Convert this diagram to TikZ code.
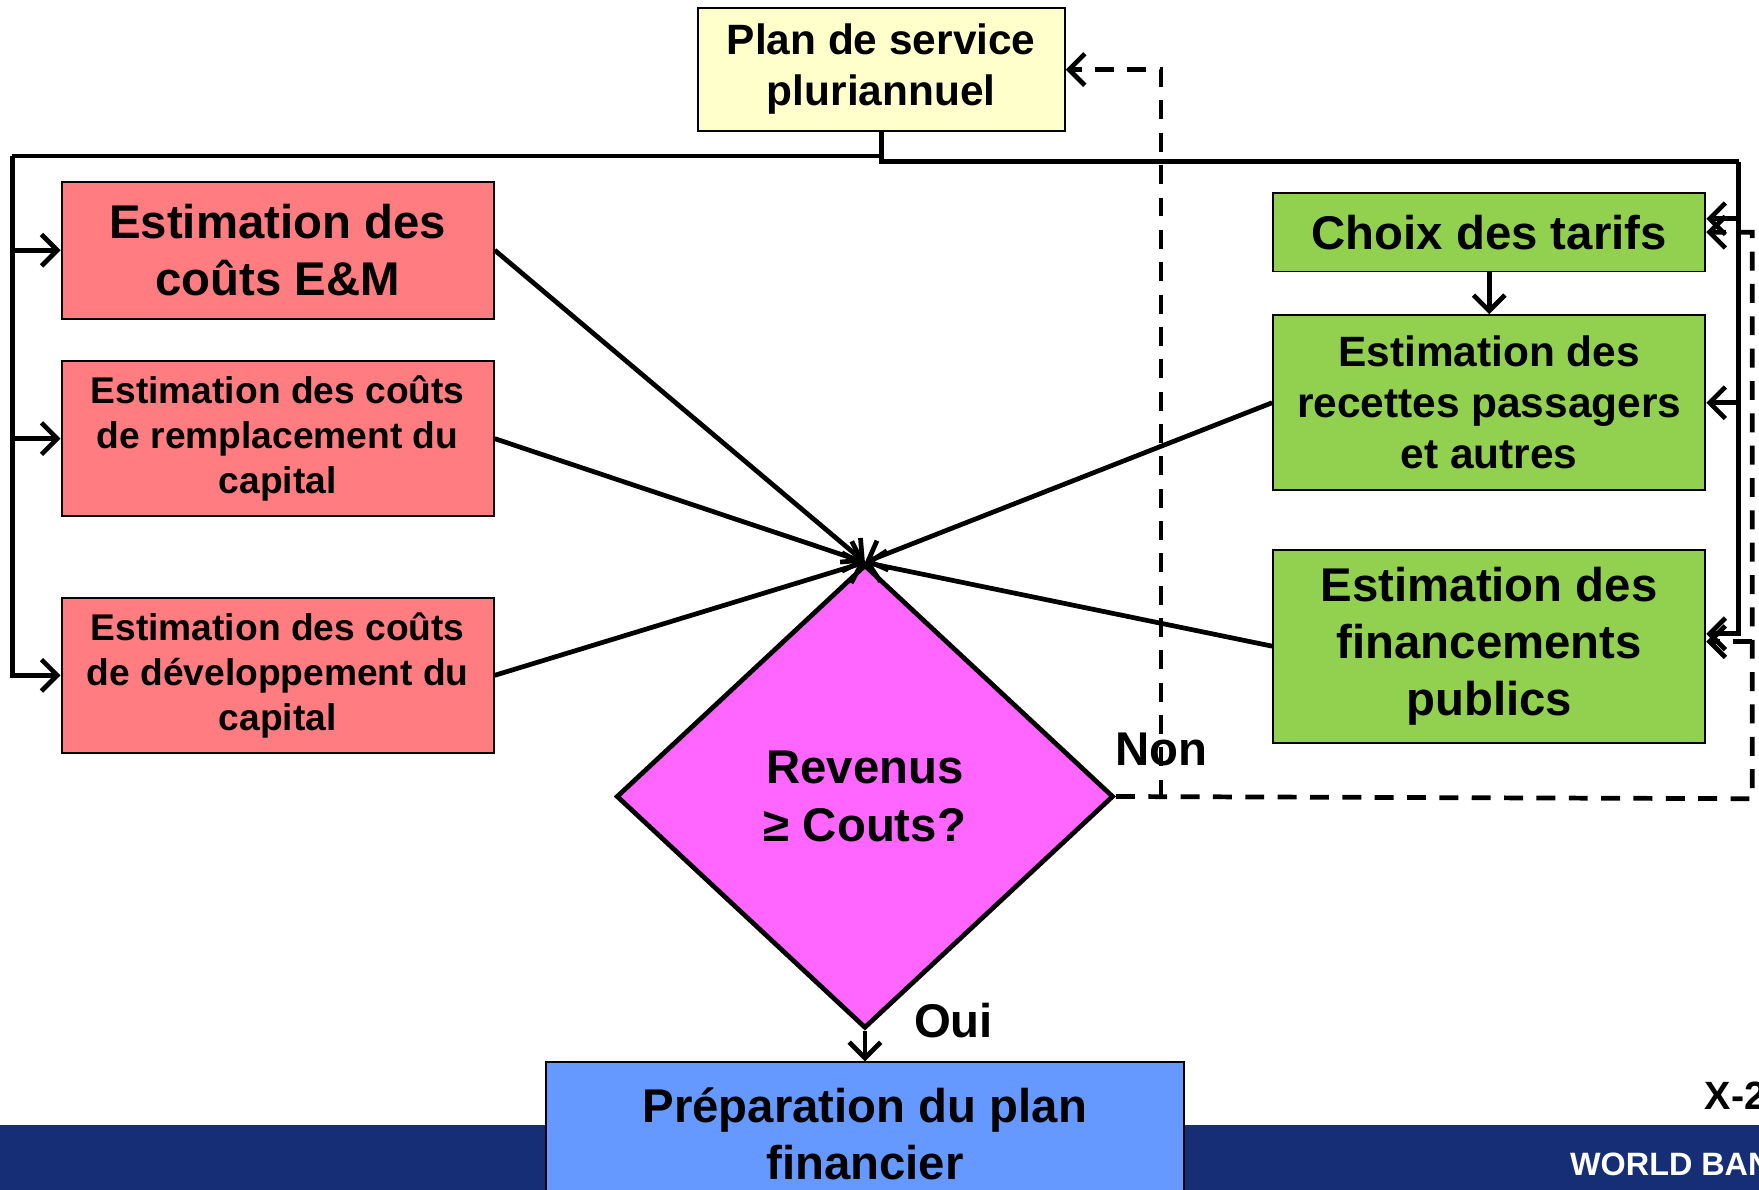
\documentclass[tikz,border=0pt]{standalone}
\usepackage{fontspec}
\setmainfont{Liberation Sans}
\usetikzlibrary{shapes.geometric}
\usetikzlibrary{arrows.meta}
\definecolor{costred}{HTML}{FF7C80}
\definecolor{revgreen}{HTML}{92D050}
\definecolor{planyellow}{HTML}{FFFFCC}
\definecolor{testpink}{HTML}{FF66FF}
\definecolor{prepblue}{HTML}{6699FF}
\definecolor{bannerblue}{RGB}{21,46,118}
\def\wirewidth{1.2pt}
\tikzset{box/.style={draw, line width=0.5pt, align=center, inner sep=0pt}}
\tikzset{bigtext/.style={font=\bfseries\fontsize{12}{14.5}\selectfont}}
\tikzset{midtext/.style={font=\bfseries\fontsize{10.75}{12.95}\selectfont}}
\tikzset{smalltext/.style={font=\bfseries\fontsize{9.42}{11.4}\selectfont}}
\tikzset{wire/.style={line width=\wirewidth, -{Straight Barb[length=4pt,width=8pt,line width=\wirewidth]}}}
\tikzset{dwire/.style={wire, dash pattern=on 4.8pt off 3.4pt}}
\tikzset{plainwire/.style={line width=\wirewidth}}

\begin{document}
\begin{tikzpicture}[x=0.01cm, y=-0.01cm]

\useasboundingbox (0,0) rectangle (1568,1060);

\fill [bannerblue] (0,1003) rectangle (1568,1075);

\node [box, fill=planyellow, midtext, minimum width=3.27cm, minimum height=1.10cm] (plan) at (785.5, 62) {\raisebox{-0.05cm}{\begin{tabular}{@{}c@{}}Plan de service\\pluriannuel\end{tabular}}};

\node [box, fill=costred, bigtext, minimum width=3.85cm, minimum height=1.22cm] (cem) at (247.5, 223) {Estimation des\\coûts E\&M};
\node [box, fill=costred, smalltext, minimum width=3.85cm, minimum height=1.38cm] (crem) at (247.5, 391) {Estimation des coûts\\de remplacement du\\capital};
\node [box, fill=costred, smalltext, minimum width=3.85cm, minimum height=1.38cm] (cdev) at (247.5, 602) {Estimation des coûts\\de développement du\\capital};

\node [box, fill=revgreen, bigtext, minimum width=3.85cm, minimum height=0.70cm] (tarifs) at (1327.5, 207) {Choix des tarifs};
\node [box, fill=revgreen, midtext, minimum width=3.85cm, minimum height=1.56cm] (recettes) at (1327.5, 359) {Estimation des\\recettes passagers\\et autres};
\node [box, fill=revgreen, bigtext, minimum width=3.85cm, minimum height=1.72cm] (financ) at (1327.5, 576) {Estimation des\\financements\\publics};

\node [diamond, draw, line width=\wirewidth, fill=testpink, bigtext, align=center, inner sep=0pt, minimum width=4.43cm, minimum height=4.13cm] (test) at (771, 710) {Revenus\\≥ Couts?};

\node [box, fill=prepblue, bigtext, minimum width=5.69cm, minimum height=1.28cm] (prep) at (771, 1011) {Préparation du plan\\financier};

\node [bigtext] (oui) at (850, 910) {Oui};
\node [bigtext] (non) at (1035, 668) {Non};
\node [font=\bfseries\fontsize{10}{12}\selectfont, anchor=base west, inner sep=0pt] (slide) at (1519, 988.6) {X-2};
\node [font=\bfseries\fontsize{8.2}{10}\selectfont, anchor=base west, inner sep=0pt, text=white] (bank) at (1399, 1047.5) {WORLD BAN};

\coordinate (jl) at (11, 139);
\coordinate (jr) at (1550, 144);
\coordinate (jd) at (1562, 712);
\coordinate (jn) at (1035, 712);
\coordinate (tin) at ([yshift=0.12cm]tarifs.east);
\coordinate (fin) at ([yshift=0.11cm]financ.east);
\coordinate (fdn) at ([yshift=0.04cm]financ.east);

\draw [plainwire] (plan.south) |- (jl);
\draw [plainwire] (plan.south) |- (jr);
\draw [wire] (jl) |- (cdev.west);
\draw [wire] (jl |- cem.west) -- (cem.west);
\draw [wire] (jl |- crem.west) -- (crem.west);
\draw [wire] (jr) |- (fin);
\draw [wire] (jr |- tin) -- (tin);
\draw [wire] (jr |- recettes.east) -- (recettes.east);

\draw [wire] (cem.east) -- (test.north);
\draw [wire] (crem.east) -- (test.north);
\draw [wire] (cdev.east) -- (test.north);
\draw [wire] (recettes.west) -- (test.north);
\draw [wire] (financ.west) -- (test.north);

\draw [wire] (tarifs) -- (recettes);
\draw [wire] (test.south) -- (prep.north);

\draw [dwire] (test.east) -- (jd) |- (tarifs.east);
\draw [dwire] (jd |- fdn) -- (fdn);
\draw [dwire] (jn) |- (plan.east);

\end{tikzpicture}
\end{document}
